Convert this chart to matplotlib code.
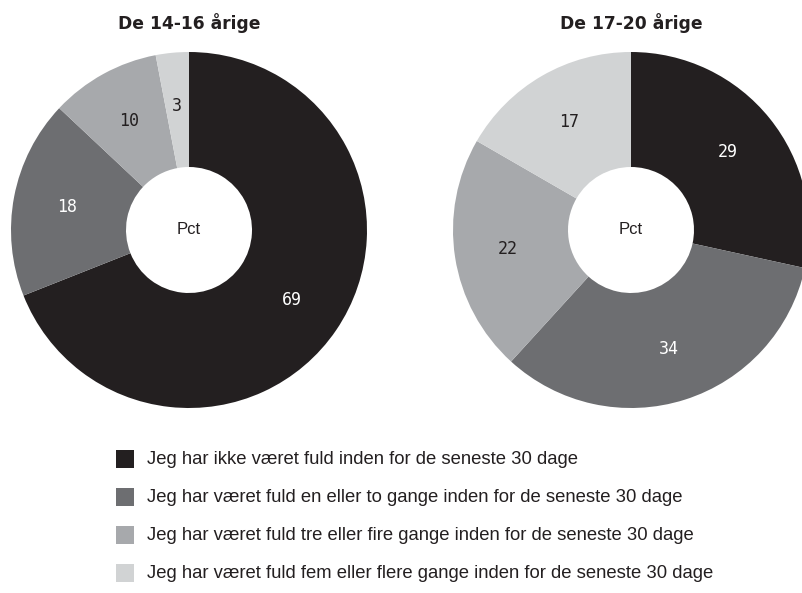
import matplotlib
matplotlib.use("Agg")
import matplotlib.pyplot as plt
from matplotlib.patches import Rectangle

titles = ["De 14-16 årige", "De 17-20 årige"]
values_1416 = [69, 18, 10, 3]
values_1720 = [29, 34, 22, 17]
legend_labels = [
    "Jeg har ikke været fuld inden for de seneste 30 dage",
    "Jeg har været fuld en eller to gange inden for de seneste 30 dage",
    "Jeg har været fuld tre eller fire gange inden for de seneste 30 dage",
    "Jeg har været fuld fem eller flere gange inden for de seneste 30 dage",
]
colors = ["#231f20", "#6d6e71", "#a7a9ac", "#d1d3d4"]
label_colors = ["white", "white", "#231f20", "#231f20"]

W, H = 803, 593
fig = plt.figure(figsize=(W / 100, H / 100), dpi=100)
ax = fig.add_axes([0, 0, 1, 1])

radius = 178
hole = 63
centers = [(189, H - 230), (631, H - 230)]
for vals, (cx, cy), title in zip([values_1416, values_1720], centers, titles):
    wedges, texts = ax.pie(
        vals, colors=colors, startangle=90, counterclock=False,
        center=(cx, cy), radius=radius, labels=[str(v) for v in vals],
        labeldistance=0.7, frame=True,
        wedgeprops=dict(width=radius - hole, linewidth=0),
        textprops=dict(fontsize=12, family="DejaVu Sans Mono"),
    )
    for t, c in zip(texts, label_colors):
        t.set_color(c)
        t.set_ha("center")
        t.set_va("center")
    ax.text(cx, cy, "Pct", ha="center", va="center", fontsize=12,
            color="#231f20", family="Liberation Sans")
    ax.text(cx, H - 23, title, ha="center", va="center", fontsize=12.3,
            fontweight="heavy", color="#231f20", family="DejaVu Sans")

ax.set_xlim(0, W)
ax.set_ylim(0, H)
ax.set_aspect("equal")
ax.axis("off")

row_y = [459, 497, 535, 573]
for lab, col, py in zip(legend_labels, colors, row_y):
    ax.add_patch(Rectangle((116, H - py - 9), 18, 18, facecolor=col,
                           edgecolor="none"))
    ax.text(147, H - py, lab, ha="left", va="center", fontsize=13.3,
            color="#231f20", family="Liberation Sans")

fig.savefig("out.png", dpi=100)
